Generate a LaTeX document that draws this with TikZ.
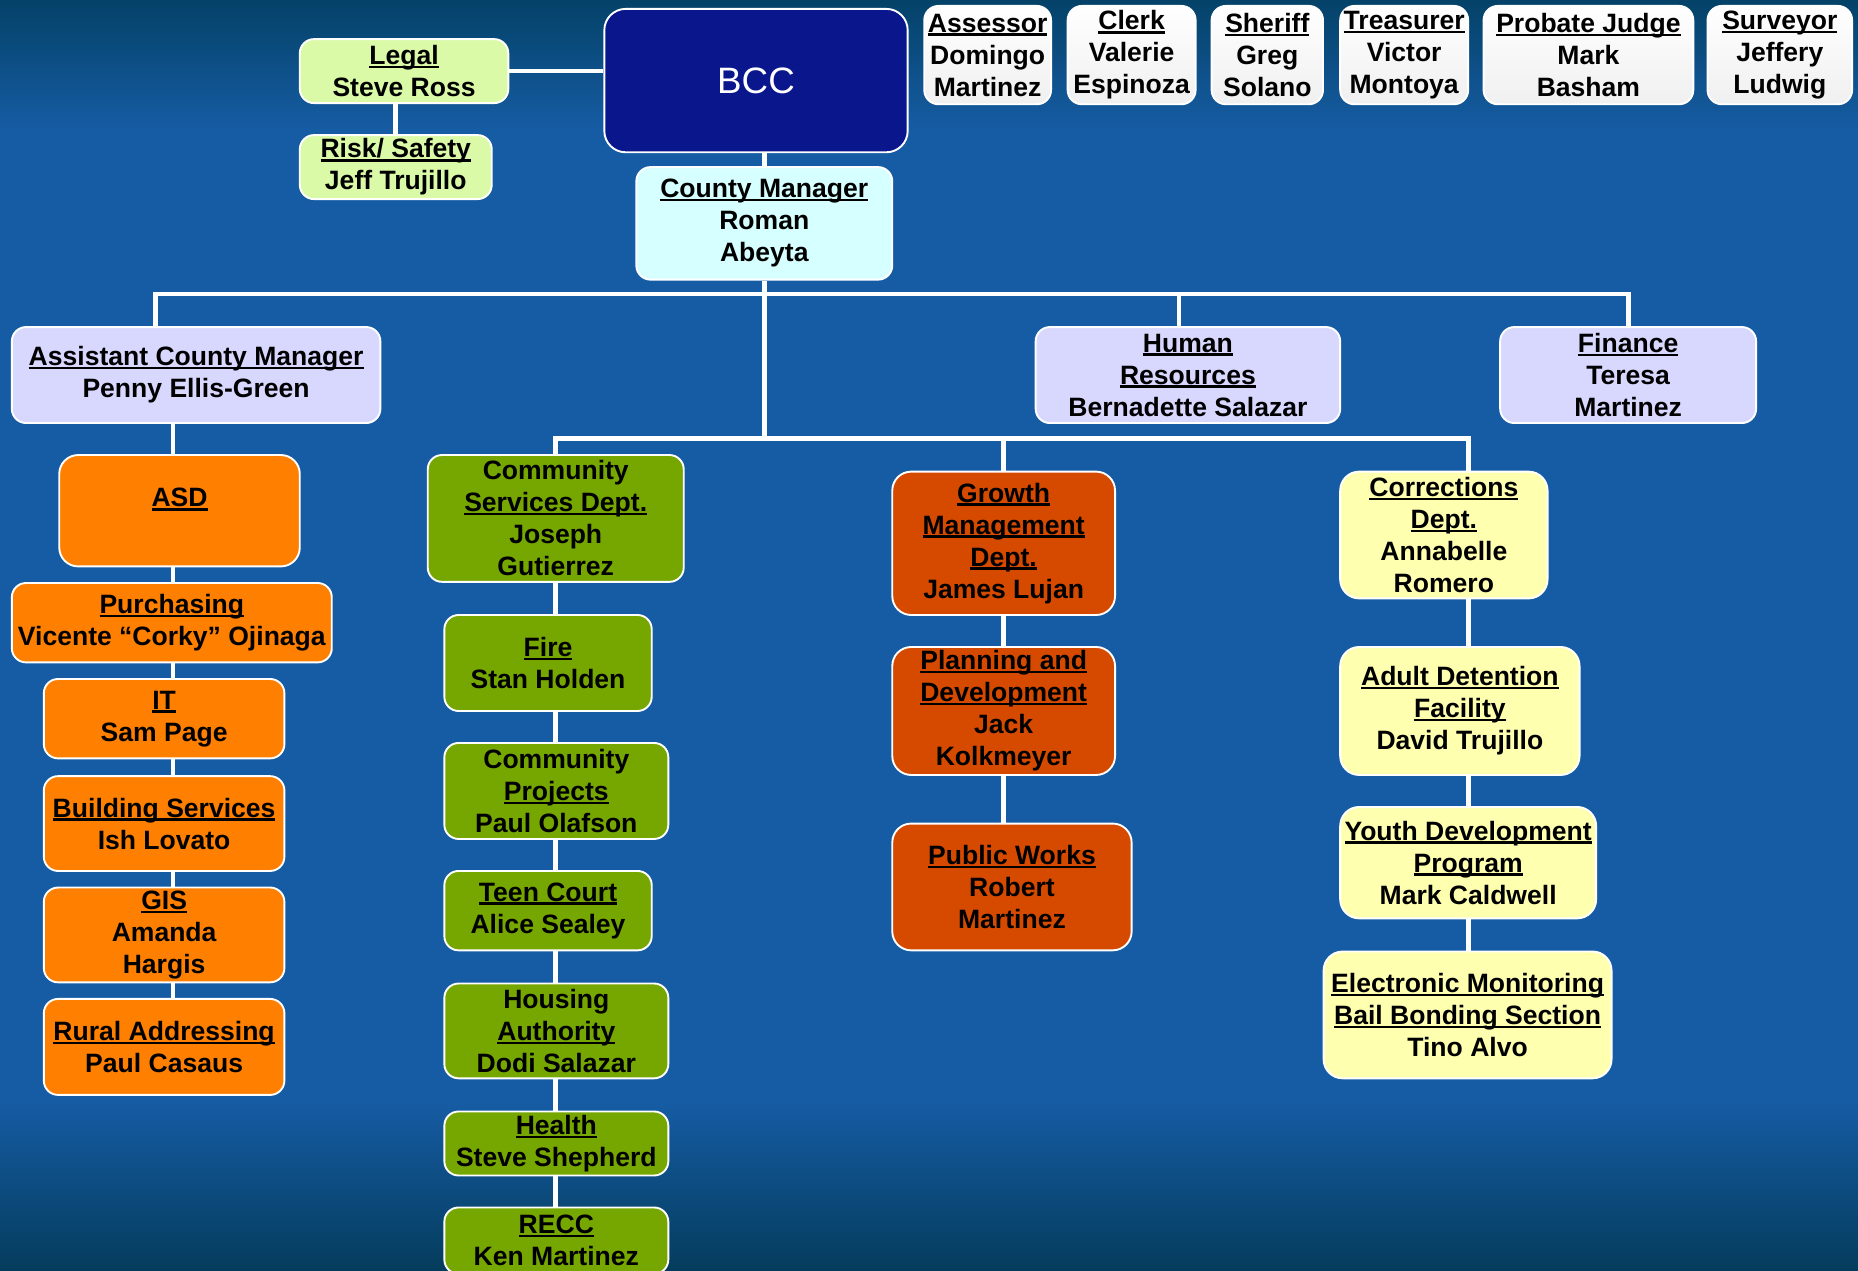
\documentclass[tikz,border=0pt]{standalone}
\usepackage{fontspec}
\setmainfont{Liberation Sans}
\usetikzlibrary{calc}
\usetikzlibrary{arrows,shapes}
\definecolor{bgtop}{RGB}{4,66,104}
\definecolor{bgmid}{RGB}{22,92,164}
\definecolor{bgbot}{RGB}{4,60,92}
\definecolor{paleGreen}{RGB}{218,250,168}
\definecolor{paleCyan}{RGB}{214,255,255}
\definecolor{lavender}{RGB}{216,216,255}
\definecolor{navyBCC}{RGB}{10,22,140}
\definecolor{asdOrange}{RGB}{255,128,0}
\definecolor{oliveGreen}{RGB}{118,166,0}
\definecolor{rust}{RGB}{214,74,0}
\definecolor{paleYellow}{RGB}{255,255,176}
\newcommand{\utitle}[1]{\setbox0\hbox{#1}\rlap{\rule[-3pt]{\wd0}{2pt}}\box0}
\tikzset{
	box/.style={draw=white, line width=1.6pt, rounded corners=12pt, align=center,
		inner sep=0pt, text=black, font=\bfseries\fontsize{22.4}{27}\selectfont},
	boxsize/.style 2 args={minimum width=#1pt, minimum height=#2pt},
	elected/.style={box, top color=white, bottom color=black!6},
	link/.style={draw=white, line width=4pt, line join=miter}
}

\begin{document}
\begin{tikzpicture}[x=1pt,y=-1pt]
	\useasboundingbox (0,0) rectangle (1568,1072);
	% background
	\shade [top color=bgtop, bottom color=bgmid] (0,0) rectangle (1568,110);
	\fill [bgmid] (0,109) rectangle (1568,931);
	\shade [top color=bgmid, bottom color=bgbot] (0,930) rectangle (1568,1072);

	% board and elected officials
	\node [box, fill=navyBCC, boxsize={256}{121}, rounded corners=18pt, text=white,
		font=\fontsize{31}{36}\selectfont] (bcc) at (638,68) {BCC};
	\node [box, fill=paleGreen, boxsize={176}{54}] (legal) at (341,60) {\utitle{Legal}\\Steve Ross};
	\node [box, fill=paleGreen, boxsize={162}{54}] (risk) at (334,141) {\utitle{Risk/ Safety}\\Jeff Trujillo};
	\node [elected, boxsize={107}{83}] (assessor) at (833.5,46.5) {\utitle{Assessor}\\Domingo\\Martinez};
	\node [elected, boxsize={108}{83}] (clerk) at (955,46.5) {\utitle{Clerk}\\Valerie\\Espinoza};
	\node [elected, boxsize={94}{83}] (sheriff) at (1069.5,46.5) {\utitle{Sheriff}\\Greg\\Solano};
	\node [elected, boxsize={108}{83}] (treasurer) at (1185,46.5) {\utitle{Treasurer}\\Victor\\Montoya};
	\node [elected, boxsize={177}{83}] (probate) at (1340.5,46.5) {\utitle{Probate Judge}\\Mark\\Basham};
	\node [elected, boxsize={122}{83}] (surveyor) at (1502,46.5) {\utitle{Surveyor}\\Jeffery\\Ludwig};

	% managers
	\node [box, fill=paleCyan, boxsize={216}{95}] (cm) at (645,188.5) {\utitle{County Manager}\\Roman\\Abeyta};
	\node [box, fill=lavender, boxsize={311}{81}] (acm) at (165.5,316.5) {\utitle{Assistant County Manager}\\Penny Ellis-Green};
	\node [box, fill=lavender, boxsize={257}{81}] (hr) at (1002.5,316.5) {\utitle{Human}\\\utitle{Resources}\\Bernadette Salazar};
	\node [box, fill=lavender, boxsize={216}{81}] (fin) at (1374,316.5) {\utitle{Finance}\\Teresa\\Martinez};

	% ASD column
	\node [box, fill=asdOrange, boxsize={203}{94}, rounded corners=16pt, text depth=22pt] (asd) at (151.5,431) {\utitle{ASD}};
	\node [box, fill=asdOrange, boxsize={270}{67}] (purch) at (145,525.5) {\utitle{Purchasing}\\Vicente “Corky” Ojinaga};
	\node [box, fill=asdOrange, boxsize={203}{67}] (it) at (138.5,606.5) {\utitle{IT}\\Sam Page};
	\node [box, fill=asdOrange, boxsize={203}{80}] (bldg) at (138.5,695) {\utitle{Building Services}\\Ish Lovato};
	\node [box, fill=asdOrange, boxsize={203}{80}] (gis) at (138.5,789) {\utitle{GIS}\\Amanda\\Hargis};
	\node [box, fill=asdOrange, boxsize={203}{81}] (rural) at (138.5,883.5) {\utitle{Rural Addressing}\\Paul Casaus};

	% community services column
	\node [box, fill=oliveGreen, boxsize={216}{107}] (csd) at (469,437.5) {Community\\\utitle{Services Dept.}\\Joseph\\Gutierrez};
	\node [box, fill=oliveGreen, boxsize={175}{81}] (fire) at (462.5,559.5) {\utitle{Fire}\\Stan Holden};
	\node [box, fill=oliveGreen, boxsize={189}{81}] (cproj) at (469.5,667.5) {Community\\\utitle{Projects}\\Paul Olafson};
	\node [box, fill=oliveGreen, boxsize={175}{67}] (teen) at (462.5,768.5) {\utitle{Teen Court}\\Alice Sealey};
	\node [box, fill=oliveGreen, boxsize={189}{80}] (housing) at (469.5,870) {Housing\\\utitle{Authority}\\Dodi Salazar};
	\node [box, fill=oliveGreen, boxsize={189}{54}] (health) at (469.5,965) {\utitle{Health}\\Steve Shepherd};
	\node [box, fill=oliveGreen, boxsize={189}{56}] (recc) at (469.5,1047) {\utitle{RECC}\\Ken Martinez};

	% growth management column
	\node [box, fill=rust, boxsize={188}{121}, rounded corners=16pt] (gmd) at (847,458.5) {\utitle{Growth}\\\utitle{Management}\\\utitle{Dept.}\\James Lujan};
	\node [box, fill=rust, boxsize={188}{108}, rounded corners=16pt] (plan) at (847,600) {\utitle{Planning and}\\\utitle{Development}\\Jack\\Kolkmeyer};
	\node [box, fill=rust, boxsize={202}{107}, rounded corners=16pt] (pworks) at (854,748.5) {\utitle{Public Works}\\Robert\\Martinez};

	% corrections column
	\node [box, fill=paleYellow, boxsize={175}{107}, rounded corners=16pt] (corr) at (1218.5,451.5) {\utitle{Corrections}\\\utitle{Dept.}\\Annabelle\\Romero};
	\node [box, fill=paleYellow, boxsize={202}{108}, rounded corners=16pt] (adult) at (1232,600) {\utitle{Adult Detention}\\\utitle{Facility}\\David Trujillo};
	\node [box, fill=paleYellow, boxsize={216}{94}, rounded corners=16pt] (youth) at (1239,728) {\utitle{Youth Development}\\\utitle{Program}\\Mark Caldwell};
	\node [box, fill=paleYellow, boxsize={243}{107}, rounded corners=16pt] (emon) at (1238.5,856.5) {\utitle{Electronic Monitoring}\\\utitle{Bail Bonding Section}\\Tino Alvo};

	% connectors
	\coordinate (busL) at (131,248);
	\coordinate (busR) at (1374,248);
	\coordinate (hrtap) at (995,248);
	\coordinate (bus2L) at (469,370);
	\coordinate (bus2R) at (1239,370);
	\coordinate (colA) at (146,0);
	\coordinate (colB) at (469,0);
	\coordinate (colC) at (847,0);
	\coordinate (colD) at (1239,0);
	\draw [link] (legal) -- (legal -| bcc.west);
	\draw [link] (risk.north) -- (risk.north |- legal.south);
	\draw [link] (cm.north) -- (cm.north |- bcc.south);
	\draw [link] (cm) -- (cm |- bus2L);
	\draw [link] (busL |- acm.north) -- (busL) -- (busR) -- (fin.north);
	\draw [link] (hrtap) -- (hrtap |- hr.north);
	\draw [link] (csd.north) -- (bus2L) -- (bus2R) -- (bus2R |- corr.north);
	\draw [link] (gmd.north) -- (gmd.north |- bus2L);
	\foreach \a/\b in {acm/asd,asd/purch,purch/it,it/bldg,bldg/gis,gis/rural}
		\draw [link] (\a.south -| colA) -- (\b.north -| colA);
	\foreach \a/\b in {csd/fire,fire/cproj,cproj/teen,teen/housing,housing/health,health/recc}
		\draw [link] (\a.south -| colB) -- (\b.north -| colB);
	\foreach \a/\b in {gmd/plan,plan/pworks}
		\draw [link] (\a.south -| colC) -- (\b.north -| colC);
	\foreach \a/\b in {corr/adult,adult/youth,youth/emon}
		\draw [link] (\a.south -| colD) -- (\b.north -| colD);
\end{tikzpicture}
\end{document}
